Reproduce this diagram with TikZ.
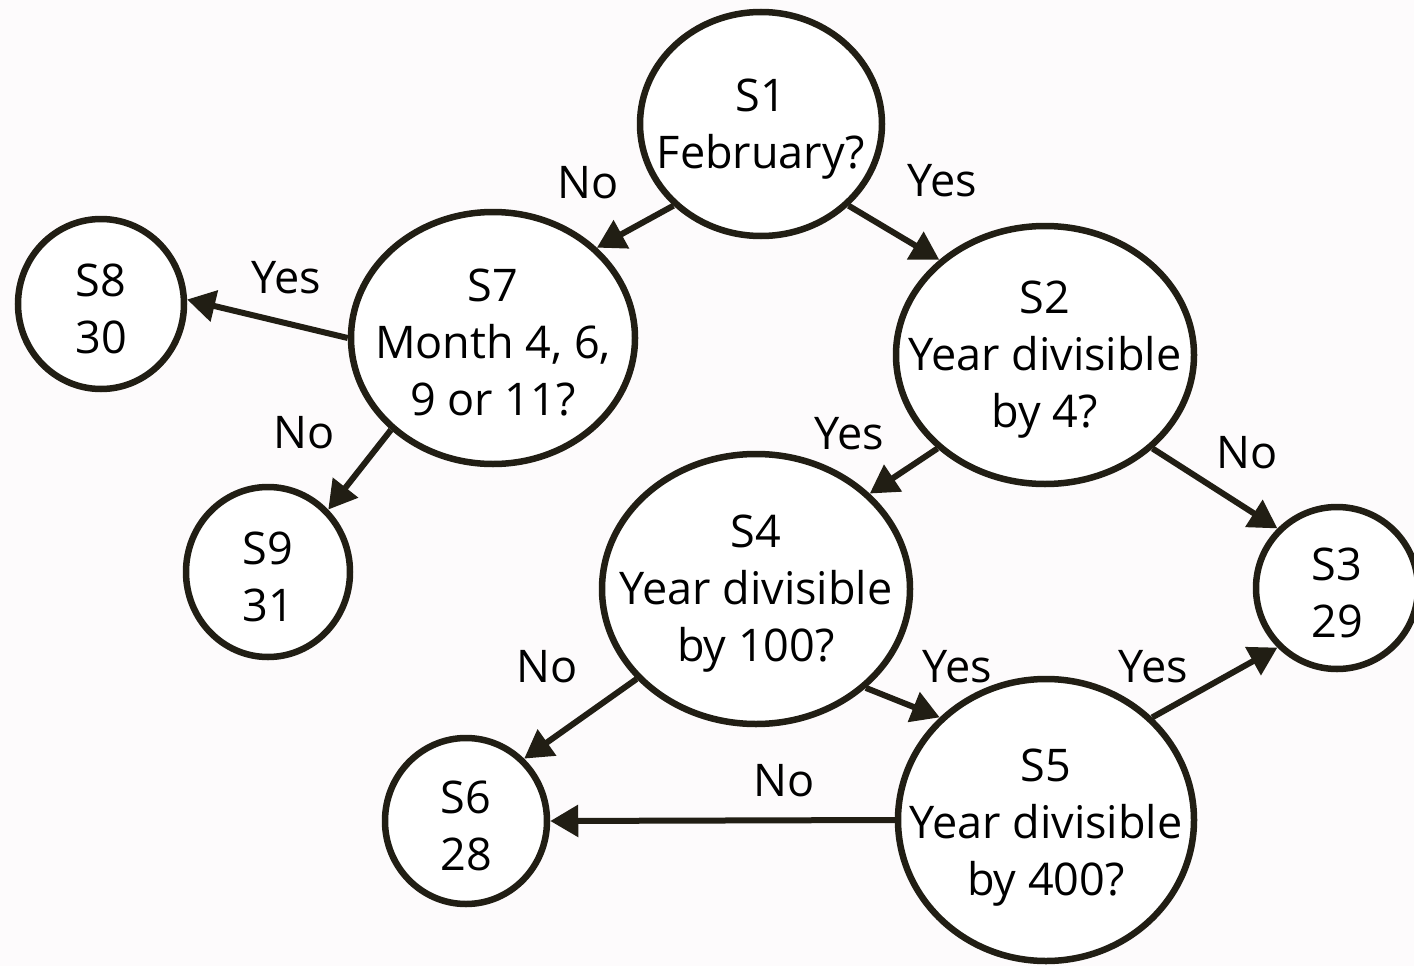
\documentclass[tikz,border=0pt]{standalone}
\usepackage{fontspec}
\setmainfont{Open Sans}
\usetikzlibrary{arrows.meta,shapes.geometric}
\definecolor{ink}{RGB}{33,30,20}
\definecolor{paper}{RGB}{253,251,252}
\begin{document}
\begin{tikzpicture}[x=1pt,y=-1pt,
  state/.style={ellipse, draw=ink, line width=6.5pt, fill=white, inner sep=0pt},
  txt/.style={align=center, inner sep=0pt, yshift=-5pt, font=\fontsize{45}{57}\selectfont},
  edge/.style={draw=ink, line width=6pt, -{Triangle[length=28pt,width=31pt]}},
  lbl/.style={font=\fontsize{45}{57}\selectfont, inner sep=0pt}]
\fill[paper] (0,0) rectangle (1414,966);
\useasboundingbox (0,0) rectangle (1414,966);

% states of the days-in-month decision machine
\node[state, minimum width=242pt, minimum height=224pt,
  label={[txt]center:S1\\February?}] (S1) at (761,124) {};
\node[state, minimum width=284pt, minimum height=252pt,
  label={[txt]center:S7\\Month 4, 6,\\9 or 11?}] (S7) at (493,338) {};
\node[state, minimum width=166pt, minimum height=170pt,
  label={[txt]center:S8\\30}] (S8) at (101,304) {};
\node[state, minimum width=164pt, minimum height=170pt,
  label={[txt]center:S9\\31}] (S9) at (268,572) {};
\node[state, minimum width=298pt, minimum height=258pt,
  label={[txt]center:S2\\Year divisible\\by 4?}] (S2) at (1045,355) {};
\node[state, minimum width=308pt, minimum height=270pt,
  label={[txt]center:S4\\Year divisible\\by 100?}] (S4) at (756,589) {};
\node[state, minimum width=162pt, minimum height=162pt,
  label={[txt]center:S3\\29}] (S3) at (1337,588) {};
\node[state, minimum width=162pt, minimum height=166pt,
  label={[txt]center:S6\\28}] (S6) at (466,821) {};
\node[state, minimum width=296pt, minimum height=282pt,
  label={[txt,yshift=-3pt]center:S5\\Year divisible\\by 400?}] (S5) at (1046,820) {};

% transitions
\draw[edge] (S1.223) -- (S7.41.5);
\draw[edge] (S1.317) -- (S2.138.4);
\draw[edge] (S7.180) -- (S8.3.3);
\draw[edge] (S7.222.3) -- (S9.46.8);
\draw[edge] (S2.221) -- (S4.40.9);
\draw[edge] (S2.319.3) -- (S3.135);
\draw[edge] (S4.217.2) -- (S6.47.9);
\draw[edge] (S4.318.8) -- (S5.136.7);
\draw[edge] (S5.44.2) -- (S3.225);
\draw[edge] (S5.180) -- (S6.0);

% transition labels
\node[lbl] (l17) at (588,183) {No};
\node[lbl] (l12) at (942,181) {Yes};
\node[lbl] (l78) at (286,278) {Yes};
\node[lbl] (l79) at (304,433) {No};
\node[lbl] (l24) at (849,434) {Yes};
\node[lbl] (l23) at (1247,453) {No};
\node[lbl] (l46) at (547,667) {No};
\node[lbl] (l45) at (957,667) {Yes};
\node[lbl] (l53) at (1153,667) {Yes};
\node[lbl] (l56) at (784,781) {No};
\end{tikzpicture}
\end{document}
